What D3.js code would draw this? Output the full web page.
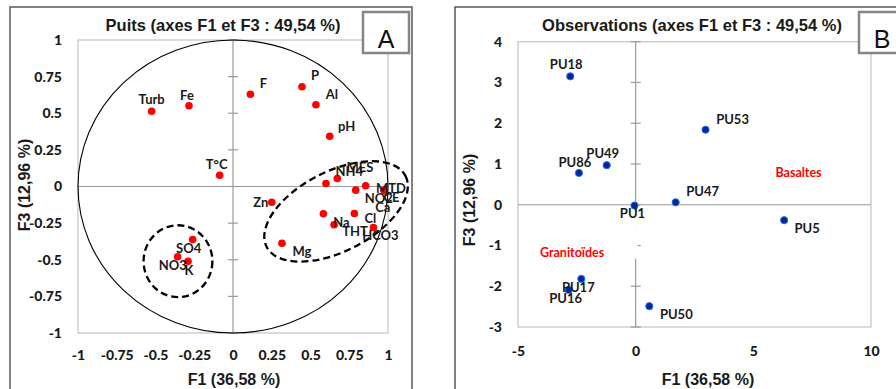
<!DOCTYPE html>
<html>
<head>
<meta charset="utf-8">
<script src="https://cdn.jsdelivr.net/npm/d3@7"></script>
<style>
  body { margin: 0; background: #fff; }
  svg { display: block; }
  .tick text { font-family: Lato, sans-serif; font-weight: 900; font-size: 14px; fill: #1a1a1a; }
  .ttl { font-family: "Liberation Sans", Arial, sans-serif; font-weight: bold; fill: #1a1a1a; }
  .lbl { font-family: Lato, sans-serif; font-weight: bold; font-size: 13px; fill: #1a1a1a; }
</style>
</head>
<body>
<div id="chart"></div>
<script>
// Panel A : variables (correlation circle, axes F1 / F3)
const varNames = ["Turb", "Fe", "F", "P", "Al", "pH", "T°C", "MES", "NH4", "NO2", "Ca", "MTD", "CE",
                  "Zn", "Na", "Cl", "THT", "HCO3", "Mg", "SO4", "NO3", "K"];
const varF1 = [-0.525, -0.284, 0.112, 0.445, 0.535, 0.624, -0.086, 0.600, 0.673, 0.856, 0.792, 0.974, 0.977,
               0.250, 0.583, 0.783, 0.652, 0.906, 0.316, -0.260, -0.357, -0.290];
const varF3 = [0.514, 0.551, 0.630, 0.681, 0.558, 0.343, 0.077, 0.020, 0.055, 0.005, -0.025, -0.025, -0.027,
               -0.107, -0.186, -0.184, -0.261, -0.280, -0.387, -0.362, -0.480, -0.510];
// label offsets in px (text centre, baseline) from the point
const varLabelDx = [0, -2, 13, 13, 16, 17, -3, 34, 12, 13, 27, 7, 7, -11, 18, 16, 21, 7, 20, -4, -5, 1];
const varLabelDy = [-7, -6, -6, -7, -6, -5, -6, -12, -2, 17, 22, 3, 12, 5, 13, 10, 11, 12, 13, 13, 13, 14];
const ticksA = [-1, -0.75, -0.5, -0.25, 0, 0.25, 0.5, 0.75, 1];

// Panel B : observations
const obsNames = ["PU18", "PU53", "PU86", "PU49", "PU47", "PU1", "PU5", "PU17", "PU16", "PU50"];
const obsF1 = [-2.78, 2.97, -2.41, -1.23, 1.70, -0.05, 6.31, -2.31, -2.85, 0.58];
const obsF3 = [3.15, 1.84, 0.78, 0.97, 0.06, -0.02, -0.38, -1.82, -2.09, -2.49];
const obsLabelDx = [-4, 27, -4, -4, 27, -2, 23, -3, -3, 27];
const obsLabelDy = [-7, -6, -6, -7, -6, 12, 13, 13, 13, 13];
const ticksBx = [-5, 0, 5, 10];
const ticksBy = [-3, -2, -1, 0, 1, 2, 3, 4];

const W = 896, H = 389;
const svg = d3.select("#chart").append("svg").attr("width", W).attr("height", H);

// outer frames
svg.append("path").attr("d", "M10,389V7H412V389").attr("fill", "none")
  .attr("stroke", "#595959").attr("stroke-width", 1.5);
svg.append("path").attr("d", "M455,389V7H896").attr("fill", "none")
  .attr("stroke", "#595959").attr("stroke-width", 1.5);

function drawPanel(opt) {
  const { x, y, xt, yt } = opt;
  const g = svg.append("g");
  const [x0, x1] = x.range(), [y0, y1] = y.range();

  g.append("rect").attr("x", x0).attr("y", y1).attr("width", x1 - x0).attr("height", y0 - y1)
    .attr("fill", "none").attr("stroke", "#c4c4c4").attr("stroke-width", 1.2);

  // zero lines
  g.append("line").attr("x1", x0).attr("x2", x1).attr("y1", y(0)).attr("y2", y(0))
    .attr("stroke", "#9a9a9a").attr("stroke-width", 1.2);
  g.append("line").attr("x1", x(0)).attr("x2", x(0)).attr("y1", y1).attr("y2", y0)
    .attr("stroke", "#9a9a9a").attr("stroke-width", 1.2);
  g.selectAll(".ztick").data(yt).join("line")
    .attr("x1", x(0) - 5).attr("x2", x(0) + 5).attr("y1", d => y(d)).attr("y2", d => y(d))
    .attr("stroke", "#9a9a9a").attr("stroke-width", 1.2);

  // tick labels
  g.append("g").attr("transform", `translate(${x0},0)`)
    .call(d3.axisLeft(y).tickValues(yt).tickSize(0).tickPadding(16).tickFormat(d => String(d)))
    .call(a => a.select(".domain").remove());
  g.append("g").attr("transform", `translate(0,${y0})`)
    .call(d3.axisBottom(x).tickValues(xt).tickSize(0).tickPadding(opt.xpad).tickFormat(d => String(d)))
    .call(a => a.select(".domain").remove());

  // titles
  g.append("text").attr("class", "ttl").attr("x", opt.titleX).attr("y", 31)
    .attr("text-anchor", "middle").style("font-size", "16.5px").text(opt.title);
  g.append("text").attr("class", "ttl").attr("x", opt.xTitleX).attr("y", 385)
    .attr("text-anchor", "middle").style("font-size", "16px").text("F1 (36,58 %)");
  g.append("text").attr("class", "ttl")
    .attr("transform", `translate(${opt.yTitleX},${opt.yTitleY}) rotate(-90)`)
    .attr("text-anchor", "middle").attr("dy", "0.35em").style("font-size", "16px").text("F3 (12,96 %)");

  // letter box
  g.append("rect").attr("x", opt.boxX).attr("y", 12).attr("width", 46).attr("height", 41)
    .attr("fill", "#fff").attr("stroke", "#858585").attr("stroke-width", 2.5);
  g.append("text").attr("x", opt.boxX + 23).attr("y", 48).attr("text-anchor", "middle")
    .style("font-family", "'Liberation Sans', Arial, sans-serif").style("font-size", "25px")
    .attr("fill", "#111").text(opt.letter);
  return g;
}

// ---------- Panel A ----------
const xA = d3.scaleLinear().domain([-1, 1]).range([78, 388]);
const yA = d3.scaleLinear().domain([-1, 1]).range([333, 40]);
const gA = drawPanel({ x: xA, y: yA, xt: ticksA, yt: ticksA, xpad: 17,
  title: "Puits (axes F1 et F3 : 49,54 %)", titleX: 223, xTitleX: 234,
  yTitleX: 24, yTitleY: 185, boxX: 363, letter: "A" });

// correlation circle
gA.append("ellipse").attr("cx", xA(0)).attr("cy", yA(0))
  .attr("rx", xA(1) - xA(0)).attr("ry", yA(0) - yA(1))
  .attr("fill", "none").attr("stroke", "#000").attr("stroke-width", 1.1);

// groups (dashed), semi-axes in F1 units
const grpCx = [-0.355, 0.665], grpCy = [-0.51, -0.17];
const grpRx = [0.222, 0.503], grpRy = [0.232, 0.258], grpRot = [0, -27];
grpCx.forEach((cx, i) => {
  const u = xA(1) - xA(0);
  gA.append("ellipse")
    .attr("transform", `translate(${xA(cx)},${yA(grpCy[i])}) rotate(${grpRot[i]})`)
    .attr("rx", grpRx[i] * u).attr("ry", grpRy[i] * u)
    .attr("fill", "none").attr("stroke", "#000").attr("stroke-width", 2.3)
    .attr("stroke-dasharray", "7,4");
});

gA.selectAll(".pt").data(varNames).join("circle")
  .attr("cx", (d, i) => xA(varF1[i])).attr("cy", (d, i) => yA(varF3[i]))
  .attr("r", 3.8).attr("fill", "#ff0000");
gA.selectAll(".vl").data(varNames).join("text").attr("class", "lbl")
  .attr("x", (d, i) => xA(varF1[i]) + varLabelDx[i]).attr("y", (d, i) => yA(varF3[i]) + varLabelDy[i])
  .attr("text-anchor", "middle").text(d => d);

// ---------- Panel B ----------
const xB = d3.scaleLinear().domain([-5, 10]).range([518, 871]);
const yB = d3.scaleLinear().domain([-3, 4]).range([327, 41.7]);
const gB = drawPanel({ x: xB, y: yB, xt: ticksBx, yt: ticksBy, xpad: 19,
  title: "Observations (axes F1 et F3 : 49,54 %)", titleX: 692, xTitleX: 708,
  yTitleX: 469, yTitleY: 200, boxX: 859, letter: "B" });

// empty label boxes hiding the axis (white fill)
gB.append("rect").attr("x", xB(-0.05) - 21).attr("y", yB(-0.02) + 6).attr("width", 42).attr("height", 16)
  .attr("fill", "#fff");
gB.append("rect").attr("x", xB(-0.05) - 30).attr("y", yB(-0.02) + 22).attr("width", 33).attr("height", 31)
  .attr("fill", "#fff");

gB.selectAll(".pt").data(obsNames).join("circle")
  .attr("cx", (d, i) => xB(obsF1[i])).attr("cy", (d, i) => yB(obsF3[i]))
  .attr("r", 3.6).attr("fill", "#00279a").attr("stroke", "#2f6ee8").attr("stroke-width", 1);
gB.selectAll(".ol").data(obsNames).join("text").attr("class", "lbl")
  .attr("x", (d, i) => xB(obsF1[i]) + obsLabelDx[i]).attr("y", (d, i) => yB(obsF3[i]) + obsLabelDy[i])
  .attr("text-anchor", "middle").text(d => d);

// geology annotations
const geoNames = ["Basaltes", "Granitoïdes"];
const geoF1 = [6.92, -2.7], geoF3 = [0.79, -1.18];
gB.selectAll(".geo").data(geoNames).join("text")
  .attr("x", (d, i) => xB(geoF1[i])).attr("y", (d, i) => yB(geoF3[i]))
  .attr("text-anchor", "middle").attr("dy", "0.35em")
  .style("font-family", "Lato, sans-serif").style("font-weight", "bold").style("font-size", "12.5px")
  .attr("fill", "#ff0000").text(d => d);
</script>
</body>
</html>
